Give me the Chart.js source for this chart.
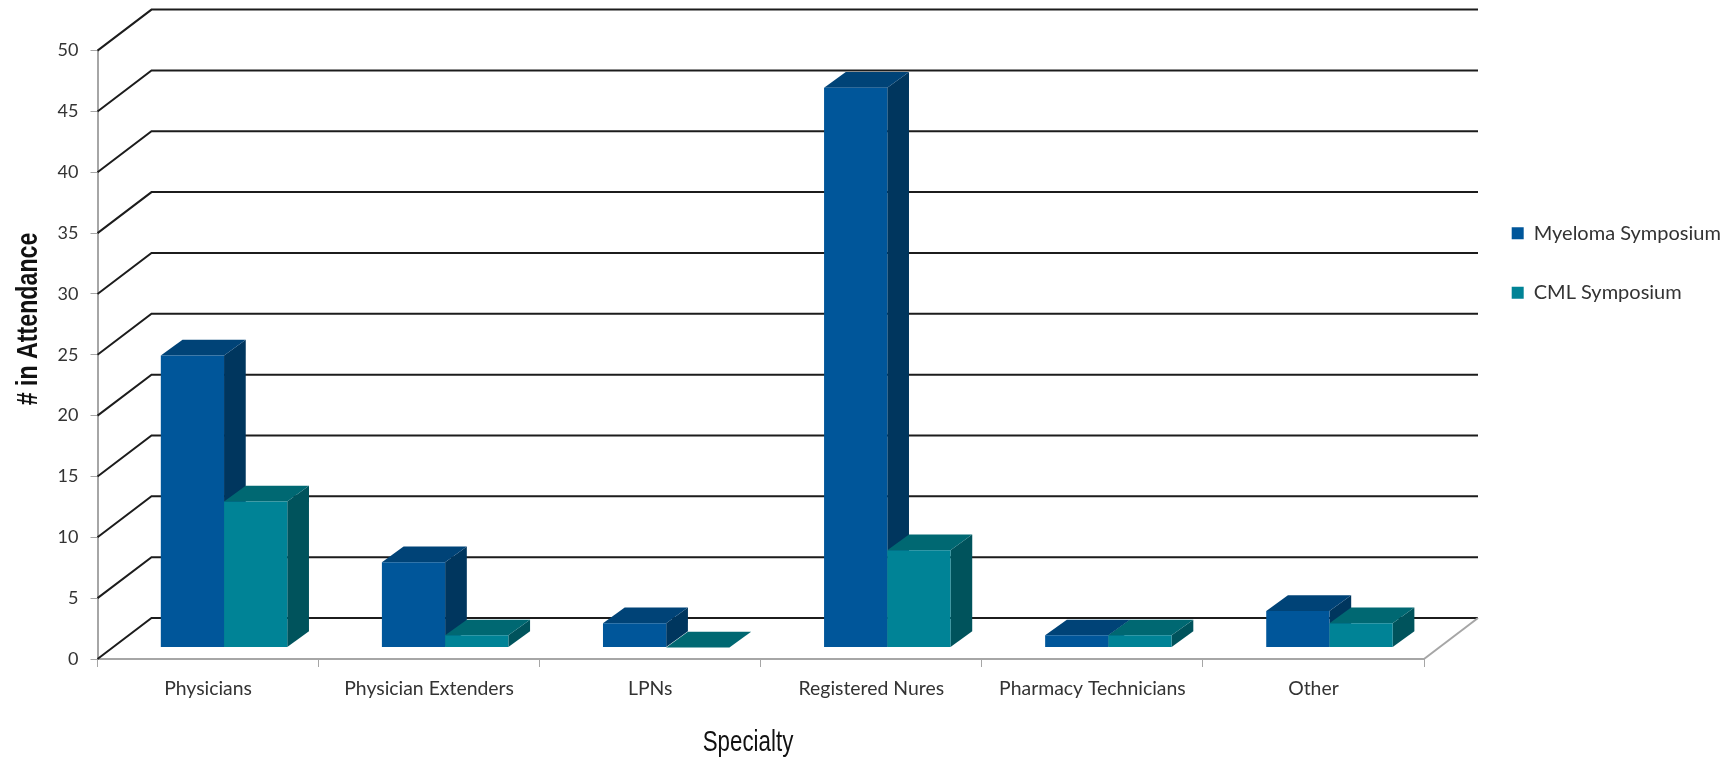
<!DOCTYPE html>
<html>
<head>
<meta charset="utf-8">
<script src="https://cdn.jsdelivr.net/npm/chart.js@4/dist/chart.umd.min.js"></script>
<style>
    body { margin: 0; background: #fff; }
    canvas { display: block; }
</style>
</head>
<body>
<canvas id="attendanceChart" width="1721" height="757"></canvas>
<script>
const categories = ['Physicians', 'Physician Extenders', 'LPNs', 'Registered Nures', 'Pharmacy Technicians', 'Other'];
const myeloma = [24, 7, 2, 46, 1, 3];
const cml = [12, 1, 0, 8, 1, 2];
const yTicks = [0, 5, 10, 15, 20, 25, 30, 35, 40, 45, 50];

const labelFont = 'Lato, "Open Sans", sans-serif';
const titleFont = '"Liberation Sans", sans-serif';
const textColor = '#333333';

// fake 3D: depth of the walls, and of the bars standing on the floor
const wall = { x: 54, y: -41 };
const barDepth = { x: 21.7, y: -15.7 };
const barShift = { x: 16, y: -11.5 };

const faces = [
    { front: '#00569a', side: '#00365e', top: '#004377' },
    { front: '#008396', side: '#00535c', top: '#006872' }
];

function drawWalls(chart) {
    const { ctx, chartArea, scales } = chart;
    ctx.save();
    ctx.strokeStyle = '#1c1c1c';
    ctx.lineWidth = 2;
    yTicks.forEach(v => {
        const y = scales.y.getPixelForValue(v);
        ctx.beginPath();
        ctx.moveTo(chartArea.left, y);
        ctx.lineTo(chartArea.left + wall.x, y + wall.y);
        ctx.lineTo(chartArea.right + wall.x, y + wall.y);
        ctx.stroke();
    });
    // floor edge on the right
    ctx.strokeStyle = '#a6a6a6';
    ctx.beginPath();
    ctx.moveTo(chartArea.right, chartArea.bottom);
    ctx.lineTo(chartArea.right + wall.x, chartArea.bottom + wall.y);
    ctx.stroke();
    ctx.restore();
}

function drawBarFaces(ctx, bar, colors) {
    const left = bar.x - bar.width / 2;
    const right = bar.x + bar.width / 2;
    const top = bar.y;
    const bottom = bar.base;

    ctx.fillStyle = colors.side;
    ctx.beginPath();
    ctx.moveTo(right, top);
    ctx.lineTo(right + barDepth.x, top + barDepth.y);
    ctx.lineTo(right + barDepth.x, bottom + barDepth.y);
    ctx.lineTo(right, bottom);
    ctx.closePath();
    ctx.fill();

    ctx.fillStyle = colors.top;
    ctx.beginPath();
    ctx.moveTo(left, top);
    ctx.lineTo(left + barDepth.x, top + barDepth.y);
    ctx.lineTo(right + barDepth.x, top + barDepth.y);
    ctx.lineTo(right, top);
    ctx.closePath();
    ctx.fill();
}

// no narrow font installed, so squeeze the regular one
function narrowText(ctx, text, x, y, angle, squeeze) {
    ctx.save();
    ctx.translate(x, y);
    ctx.rotate(angle);
    ctx.scale(squeeze, 1);
    ctx.fillText(text, 0, 0);
    ctx.restore();
}

const bars3d = {
    id: 'bars3d',
    beforeLayout(chart) {
        // reserve the full right margin, the plot has to stop at the same x
        chart.legend.fit = function () {
            Object.getPrototypeOf(this).fit.call(this);
            this.width = 297;
        };
    },
    afterLayout(chart) {
        // legend sits apart from the plot, same place as the original
        const legend = chart.legend;
        legend.left = 1472.2;
        legend.right = 1721;
        legend.top = 183.8;
    },
    beforeDatasetsDraw(chart) {
        const { ctx } = chart;
        drawWalls(chart);
        // myeloma first so the CML bars cover its side face
        [0, 1].forEach(i => {
            const meta = chart.getDatasetMeta(i);
            ctx.save();
            ctx.translate(barShift.x, barShift.y);
            meta.data.forEach(bar => drawBarFaces(ctx, bar, faces[i]));
            meta.controller.draw();
            ctx.restore();
        });
        return false;
    },
    afterDraw(chart) {
        const { ctx } = chart;
        ctx.save();
        ctx.fillStyle = '#111111';
        ctx.textAlign = 'center';
        ctx.textBaseline = 'alphabetic';
        ctx.font = '29px ' + titleFont;
        narrowText(ctx, 'Specialty', 748, 750.7, 0, 0.77);
        ctx.font = 'bold 29px ' + titleFont;
        narrowText(ctx, '# in Attendance', 37, 319, -Math.PI / 2, 0.8);
        ctx.restore();
    }
};

new Chart(document.getElementById('attendanceChart'), {
    type: 'bar',
    data: {
        labels: categories,
        datasets: [
            { label: 'Myeloma Symposium', data: myeloma, backgroundColor: faces[0].front },
            { label: 'CML Symposium', data: cml, backgroundColor: faces[1].front }
        ]
    },
    options: {
        responsive: false,
        animation: false,
        layout: { padding: { top: 50.6 } },
        datasets: { bar: { barPercentage: 1, categoryPercentage: 0.572 } },
        plugins: {
            tooltip: { enabled: false },
            legend: {
                position: 'right',
                align: 'start',
                labels: {
                    boxWidth: 12,
                    boxHeight: 12,
                    padding: 39.5,
                    color: textColor,
                    font: { family: labelFont, size: 20 }
                }
            }
        },
        scales: {
            x: {
                afterFit(scale) { scale.height = 98; },
                border: { color: '#a6a6a6', width: 2 },
                grid: { drawOnChartArea: false, color: '#a6a6a6', tickLength: 8 },
                ticks: { color: textColor, padding: 10, maxRotation: 0, font: { family: labelFont, size: 19.4 } }
            },
            y: {
                min: 0,
                max: 50,
                afterFit(scale) { scale.width = 97.5; },
                afterBuildTicks(scale) { scale.ticks = yTicks.map(value => ({ value })); },
                border: { color: '#a6a6a6', width: 2 },
                grid: { drawOnChartArea: false, color: '#a6a6a6', tickLength: 7 },
                ticks: { color: textColor, padding: 12, font: { family: labelFont, size: 18 } }
            }
        }
    },
    plugins: [bars3d]
});
</script>
</body>
</html>
